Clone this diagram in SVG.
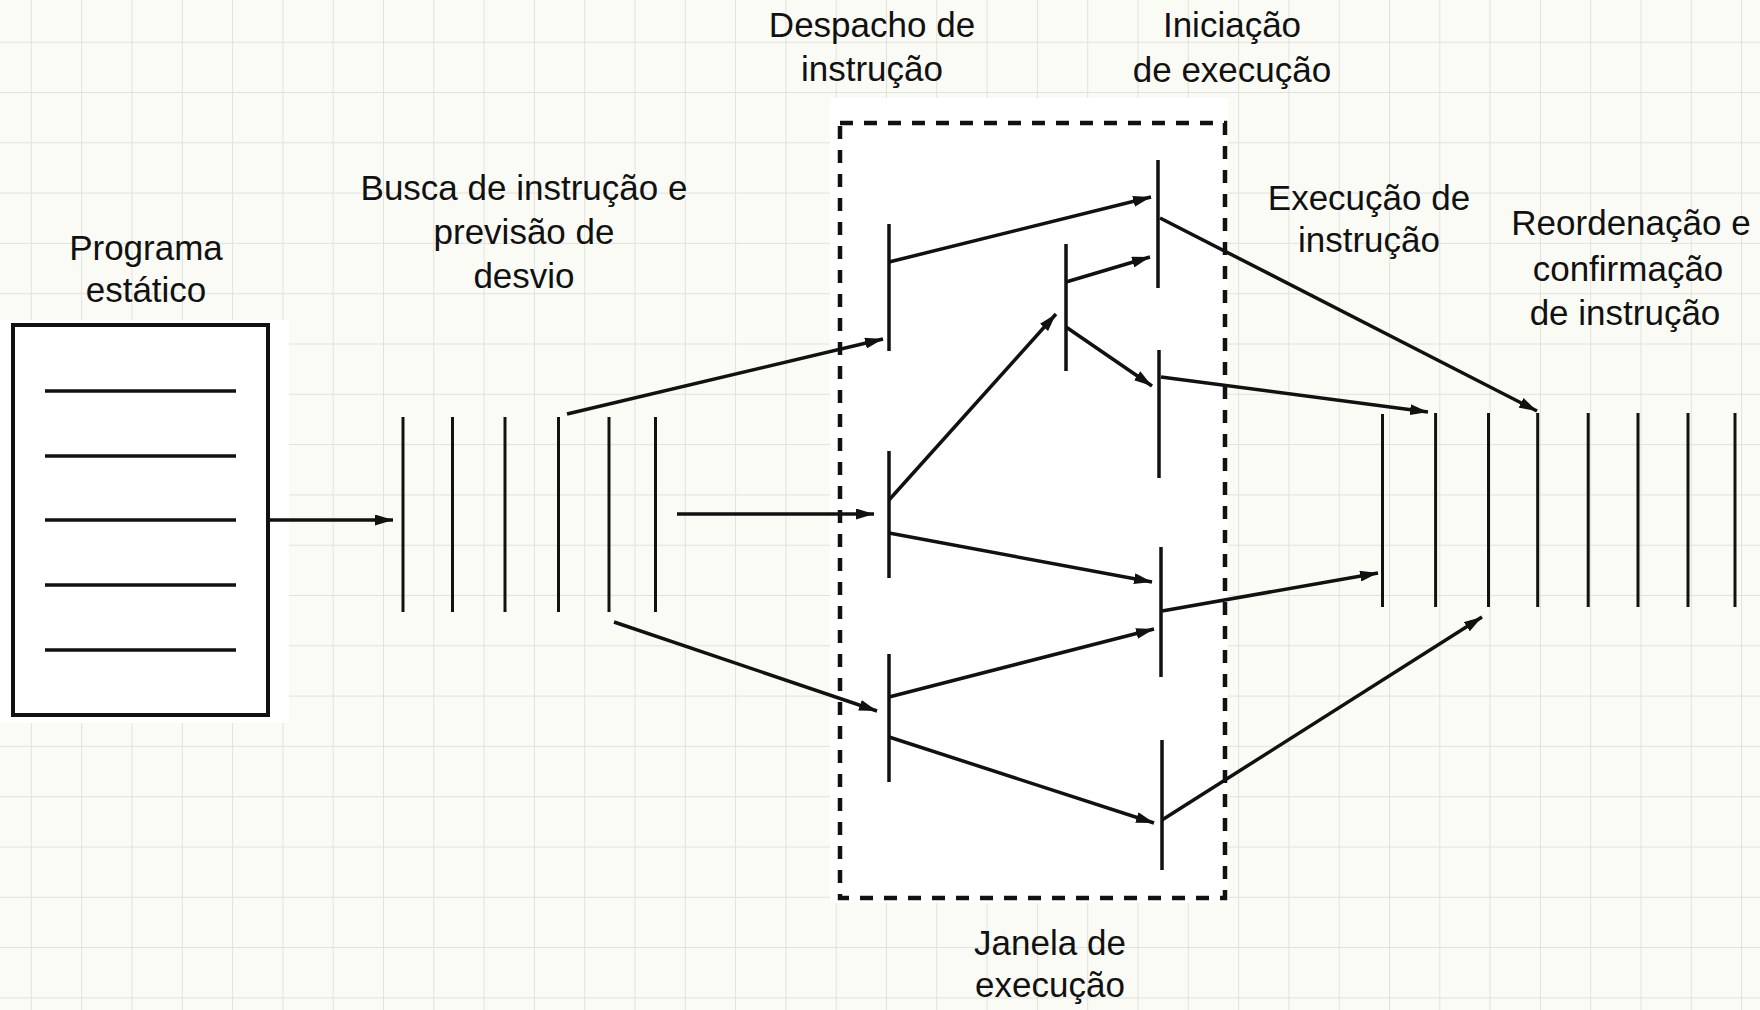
<svg xmlns="http://www.w3.org/2000/svg" width="1760" height="1010" viewBox="0 0 1760 1010">
<style>
.t{font-family:"Liberation Sans",Arial,sans-serif;font-size:35px;fill:#111;text-anchor:middle}
.bar{stroke:#111;stroke-width:3.5;fill:none}
.thin{stroke:#111;stroke-width:3;fill:none}
.arr{stroke:#111;stroke-width:3.5;fill:none;marker-end:url(#ah)}
</style>
<defs>
<pattern id="grid" patternUnits="userSpaceOnUse" x="30.9" y="41.7" width="50.3" height="50.3">
<path d="M0,0 H50.3 M0,0 V50.3" stroke="#e2e2dd" stroke-width="2" fill="none"/>
</pattern>
<marker id="ah" markerUnits="userSpaceOnUse" markerWidth="19" markerHeight="11" refX="18" refY="5.5" orient="auto">
<path d="M0,0 L18,5.5 L0,11 z" fill="#111"/>
</marker>
</defs>
<rect width="1760" height="1010" fill="#fbfbf6"/>
<rect width="1760" height="1010" fill="url(#grid)"/>
<rect x="0" y="320" width="289" height="403" fill="#ffffff"/>
<rect x="830" y="98" width="398" height="805" fill="#ffffff"/>

<g id="labels">
<text class="t" x="146" y="260">Programa</text>
<text class="t" x="146" y="302">estático</text>
<text class="t" x="524" y="200">Busca de instrução e</text>
<text class="t" x="524" y="244">previsão de</text>
<text class="t" x="524" y="288">desvio</text>
<text class="t" x="872" y="37">Despacho de</text>
<text class="t" x="872" y="81">instrução</text>
<text class="t" x="1232" y="37">Iniciação</text>
<text class="t" x="1232" y="82">de execução</text>
<text class="t" x="1369" y="210">Execução de</text>
<text class="t" x="1369" y="252">instrução</text>
<text class="t" x="1631" y="235">Reordenação e</text>
<text class="t" x="1628" y="281">confirmação</text>
<text class="t" x="1625" y="325">de instrução</text>
<text class="t" x="1050" y="955">Janela de</text>
<text class="t" x="1050" y="997">execução</text>
</g>

<g id="programa-estatico">
<rect x="13" y="325" width="255" height="390" fill="#ffffff" stroke="#111" stroke-width="4"/>
<line class="bar" x1="45" y1="391" x2="236" y2="391" stroke-width="4"/>
<line class="bar" x1="45" y1="456" x2="236" y2="456" stroke-width="4"/>
<line class="bar" x1="45" y1="520" x2="236" y2="520" stroke-width="4"/>
<line class="bar" x1="45" y1="585" x2="236" y2="585" stroke-width="4"/>
<line class="bar" x1="45" y1="650" x2="236" y2="650" stroke-width="4"/>
</g>

<g id="busca">
<line class="thin" x1="403" y1="417" x2="403" y2="612"/>
<line class="thin" x1="452.5" y1="417" x2="452.5" y2="612"/>
<line class="thin" x1="505" y1="417" x2="505" y2="612"/>
<line class="thin" x1="558.5" y1="417" x2="558.5" y2="612"/>
<line class="thin" x1="609" y1="417" x2="609" y2="612"/>
<line class="thin" x1="655.5" y1="417" x2="655.5" y2="612"/>
</g>

<g id="janela">
<rect x="840" y="123" width="385" height="775" fill="none" stroke="#111" stroke-width="4.5" stroke-dasharray="13 11"/>
</g>

<g id="despacho">
<line class="bar" x1="889" y1="224" x2="889" y2="351"/>
<line class="bar" x1="889" y1="451" x2="889" y2="578"/>
<line class="bar" x1="889" y1="654" x2="889" y2="782"/>
</g>

<g id="intermediario">
<line class="bar" x1="1066" y1="244" x2="1066" y2="371"/>
</g>

<g id="iniciacao">
<line class="bar" x1="1158" y1="160" x2="1158" y2="288"/>
<line class="bar" x1="1159" y1="350" x2="1159" y2="478"/>
<line class="bar" x1="1161" y1="547" x2="1161" y2="677"/>
<line class="bar" x1="1162" y1="740" x2="1162" y2="870"/>
</g>

<g id="reordenacao">
<line class="thin" x1="1382.5" y1="414" x2="1382.5" y2="607"/>
<line class="thin" x1="1435.6" y1="413" x2="1435.6" y2="607"/>
<line class="thin" x1="1488.5" y1="413" x2="1488.5" y2="607"/>
<line class="thin" x1="1537.7" y1="413" x2="1537.7" y2="607"/>
<line class="thin" x1="1588.2" y1="413" x2="1588.2" y2="607"/>
<line class="thin" x1="1638" y1="413" x2="1638" y2="607"/>
<line class="thin" x1="1688" y1="413" x2="1688" y2="607"/>
<line class="thin" x1="1735" y1="413" x2="1735" y2="607"/>
</g>

<g id="connectors">
<line class="arr" x1="268" y1="520" x2="393" y2="520"/>
<line class="arr" x1="567" y1="414" x2="883" y2="339"/>
<line class="arr" x1="677" y1="514" x2="874" y2="514"/>
<line class="arr" x1="614" y1="622" x2="877" y2="711"/>
<line class="arr" x1="889" y1="262" x2="1151" y2="197"/>
<line class="arr" x1="1066" y1="282" x2="1150" y2="257"/>
<line class="arr" x1="889" y1="500" x2="1056" y2="314"/>
<line class="arr" x1="1066" y1="327" x2="1152" y2="386"/>
<line class="arr" x1="1160" y1="218" x2="1537" y2="411"/>
<line class="arr" x1="1161" y1="377" x2="1428" y2="412"/>
<line class="arr" x1="889" y1="533" x2="1152" y2="582"/>
<line class="arr" x1="889" y1="697" x2="1154" y2="629"/>
<line class="arr" x1="889" y1="737" x2="1154" y2="823"/>
<line class="arr" x1="1162" y1="611" x2="1378" y2="573"/>
<line class="arr" x1="1162" y1="820" x2="1482" y2="617"/>
</g>
</svg>
